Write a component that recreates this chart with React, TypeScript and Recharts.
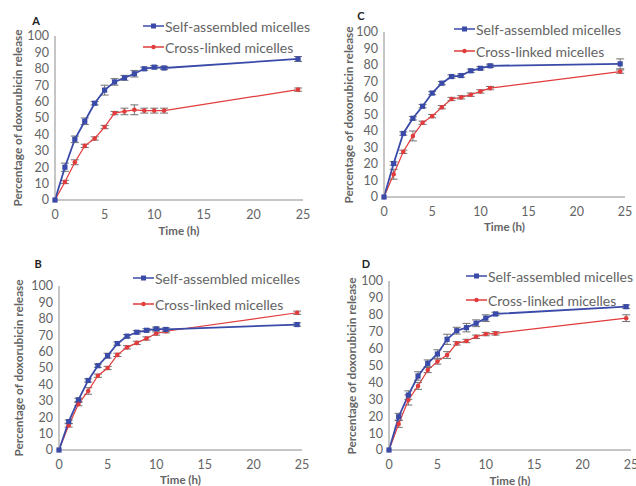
import React from 'react';
import { LineChart, Line, XAxis, YAxis, ErrorBar } from 'recharts';

// sampling times (h)
const time = [0, 1, 2, 3, 4, 5, 6, 7, 8, 9, 10, 11, 24.5];
const xTicks = [0, 5, 10, 15, 20, 25];
const yTicks = [0, 10, 20, 30, 40, 50, 60, 70, 80, 90, 100];

// panel A
const selfA = [0, 20, 37, 48, 59, 67, 72, 74.5, 77, 80, 81, 80.5, 86];
const selfErrA = [0, 2.5, 2, 2, 1, 3, 2, 1.5, 2, 1, 1, 1, 1.5];
const crossA = [0, 11, 23, 33, 37.5, 44.5, 53, 54, 55, 54.5, 54.5, 54.5, 67.3];
const crossErrA = [0, 1, 1.5, 1, 1, 1, 1, 2, 3, 1.5, 1.5, 1.5, 1];

// panel B
const selfB = [0, 17.3, 30.6, 42.4, 51.4, 57.5, 64.9, 69.4, 71.8, 73, 73.9, 73.5, 76.5];
const selfErrB = [0, 1, 1, 1, 1, 1.5, 1, 1, 1, 1, 1, 1, 1];
const crossB = [0, 15, 28, 36, 45.3, 50, 58, 62.6, 65.3, 68, 71, 72.4, 83.7];
const crossErrB = [0, 1, 1, 2, 1, 1, 1, 1, 1, 1, 1, 1, 1];

// panel C
const selfC = [0, 20.3, 38.5, 47.7, 55, 63, 69, 73, 73.6, 76.5, 78, 79.5, 80.7];
const selfErrC = [0, 1, 1, 1, 1, 1, 1, 1, 1, 1, 1, 1, 3];
const crossC = [0, 13.8, 27.4, 37, 45, 49, 54.4, 59.4, 60.4, 62, 64, 66, 76];
const crossErrC = [0, 3, 1, 3, 1, 1, 1, 1, 1, 1, 1, 1, 1];

// panel D
const selfD = [0, 19.7, 32.5, 43.8, 51.3, 56.8, 65.5, 70.6, 72.4, 75, 78, 80.5, 84.8];
const selfErrD = [0, 2, 2.5, 2.5, 2, 2.5, 3, 2, 2.5, 2, 2, 1, 1];
const crossD = [0, 15.4, 29.6, 37.9, 47.3, 52.3, 56.2, 63.1, 64.5, 67, 68.6, 69, 78];
const crossErrD = [0, 2, 3, 2, 1.5, 1.5, 2, 1, 1, 1, 1, 1, 2];

const BLUE = '#3a4aa8';
const RED = '#e23b3b';
const TEXT = '#646464';
const AXIS = '#8c8c8c';
const FONT = 'Lato, "Open Sans", sans-serif';

const build = (self: number[], selfErr: number[], cross: number[], crossErr: number[]) =>
  time.map((t, i) => ({ t, self: self[i], selfErr: selfErr[i], cross: cross[i], crossErr: crossErr[i] }));

const squareDot = (p: any) =>
  p.cx == null ? null : <rect key={`s${p.index}`} x={p.cx - 2.6} y={p.cy - 2.6} width={5.2} height={5.2} fill={BLUE} />;
const roundDot = (p: any) =>
  p.cx == null ? null : <circle key={`c${p.index}`} cx={p.cx} cy={p.cy} r={2.3} fill={RED} />;

interface PanelProps {
  data: any[];
  x: number;
  y: number;
  left: number;
  right: number;
  top: number;
  bottom: number;
  letter: string;
  letterX: number;
  letterY: number;
  labelX: number;
  timeY: number;
  legendX: number;
  legendY: number;
  legendGap: number;
}

const W = 318;
const H = 243;

const Panel: React.FC<PanelProps> = (p) => {
  const mid = (p.top + p.bottom) / 2;
  const legendRow = (color: string, text: string, square: boolean, cy: number) => (
    <div style={{ position: 'absolute', left: p.legendX, top: cy - 9, height: 18, display: 'flex', alignItems: 'center', whiteSpace: 'nowrap' }}>
      <svg width={21} height={10}>
        <line x1={0} y1={5} x2={21} y2={5} stroke={color} strokeWidth={1.5} />
        {square ? <rect x={8} y={2.5} width={5} height={5} fill={color} /> : <circle cx={10.5} cy={5} r={2.2} fill={color} />}
      </svg>
      <span style={{ fontFamily: FONT, fontSize: 14, color: TEXT, marginLeft: 1 }}>{text}</span>
    </div>
  );
  return (
    <div style={{ position: 'absolute', left: p.x, top: p.y, width: W, height: H, overflow: 'hidden' }}>
      <LineChart
        width={W}
        height={H}
        data={p.data}
        margin={{ top: p.top, right: W - p.right, left: p.left - 40, bottom: H - p.bottom - 30 }}
      >
        <XAxis
          type="number"
          dataKey="t"
          domain={[0, 25]}
          ticks={xTicks}
          interval={0}
          height={30}
          tickLine={false}
          tickMargin={4}
          axisLine={{ stroke: AXIS }}
          tick={{ fill: TEXT, fontSize: 12.5, fontFamily: FONT }}
        />
        <YAxis
          type="number"
          domain={[0, 100]}
          ticks={yTicks}
          interval={0}
          width={40}
          tickLine={false}
          tickMargin={0}
          axisLine={{ stroke: AXIS }}
          tick={{ fill: TEXT, fontSize: 12.5, fontFamily: FONT }}
        />
        <Line dataKey="cross" stroke={RED} strokeWidth={1.2} dot={roundDot} isAnimationActive={false}>
          <ErrorBar dataKey="crossErr" direction="y" width={4} stroke="#707070" strokeWidth={1} />
        </Line>
        <Line dataKey="self" stroke={BLUE} strokeWidth={1.8} dot={squareDot} isAnimationActive={false}>
          <ErrorBar dataKey="selfErr" direction="y" width={4} stroke="#707070" strokeWidth={1} />
        </Line>
      </LineChart>
      <div style={{ position: 'absolute', left: p.letterX, top: p.letterY, transform: 'translate(-50%,-50%)', fontFamily: FONT, fontWeight: 700, fontSize: 11, color: '#222' }}>
        {p.letter}
      </div>
      <div
        style={{
          position: 'absolute', left: p.labelX, top: mid, transform: 'translate(-50%,-50%) rotate(-90deg)',
          whiteSpace: 'nowrap', fontFamily: FONT, fontWeight: 700, fontSize: 11.8, color: TEXT,
        }}
      >
        Percentage of doxorubicin release
      </div>
      <div
        style={{
          position: 'absolute', left: (p.left + p.right) / 2, top: p.timeY, transform: 'translate(-50%,-50%)',
          whiteSpace: 'nowrap', fontFamily: FONT, fontWeight: 700, fontSize: 11.5, color: TEXT,
        }}
      >
        Time (h)
      </div>
      {legendRow(BLUE, 'Self-assembled micelles', true, p.legendY)}
      {legendRow(RED, 'Cross-linked micelles', false, p.legendY + p.legendGap)}
    </div>
  );
};

export default function App() {
  return (
    <div style={{ position: 'fixed', left: 0, top: 0, width: 636, height: 486, background: '#fff' }}>
      <Panel data={build(selfA, selfErrA, crossA, crossErrA)} x={0} y={0}
        left={55} right={303} top={36} bottom={200} letter="A" letterX={36} letterY={20}
        labelX={17} timeY={230} legendX={143} legendY={26} legendGap={21} />
      <Panel data={build(selfC, selfErrC, crossC, crossErrC)} x={318} y={0}
        left={66} right={307} top={32} bottom={197} letter="C" letterX={43} letterY={15}
        labelX={30} timeY={226} legendX={136} legendY={29} legendGap={22} />
      <Panel data={build(selfB, selfErrB, crossB, crossErrB)} x={0} y={243}
        left={59} right={302} top={43} bottom={207} letter="B" letterX={38} letterY={20}
        labelX={18} timeY={236} legendX={133} legendY={35} legendGap={26} />
      <Panel data={build(selfD, selfErrD, crossD, crossErrD)} x={318} y={243}
        left={71} right={313} top={38} bottom={207} letter="D" letterX={48} letterY={20}
        labelX={33} timeY={237} legendX={148} legendY={33} legendGap={24} />
    </div>
  );
}
